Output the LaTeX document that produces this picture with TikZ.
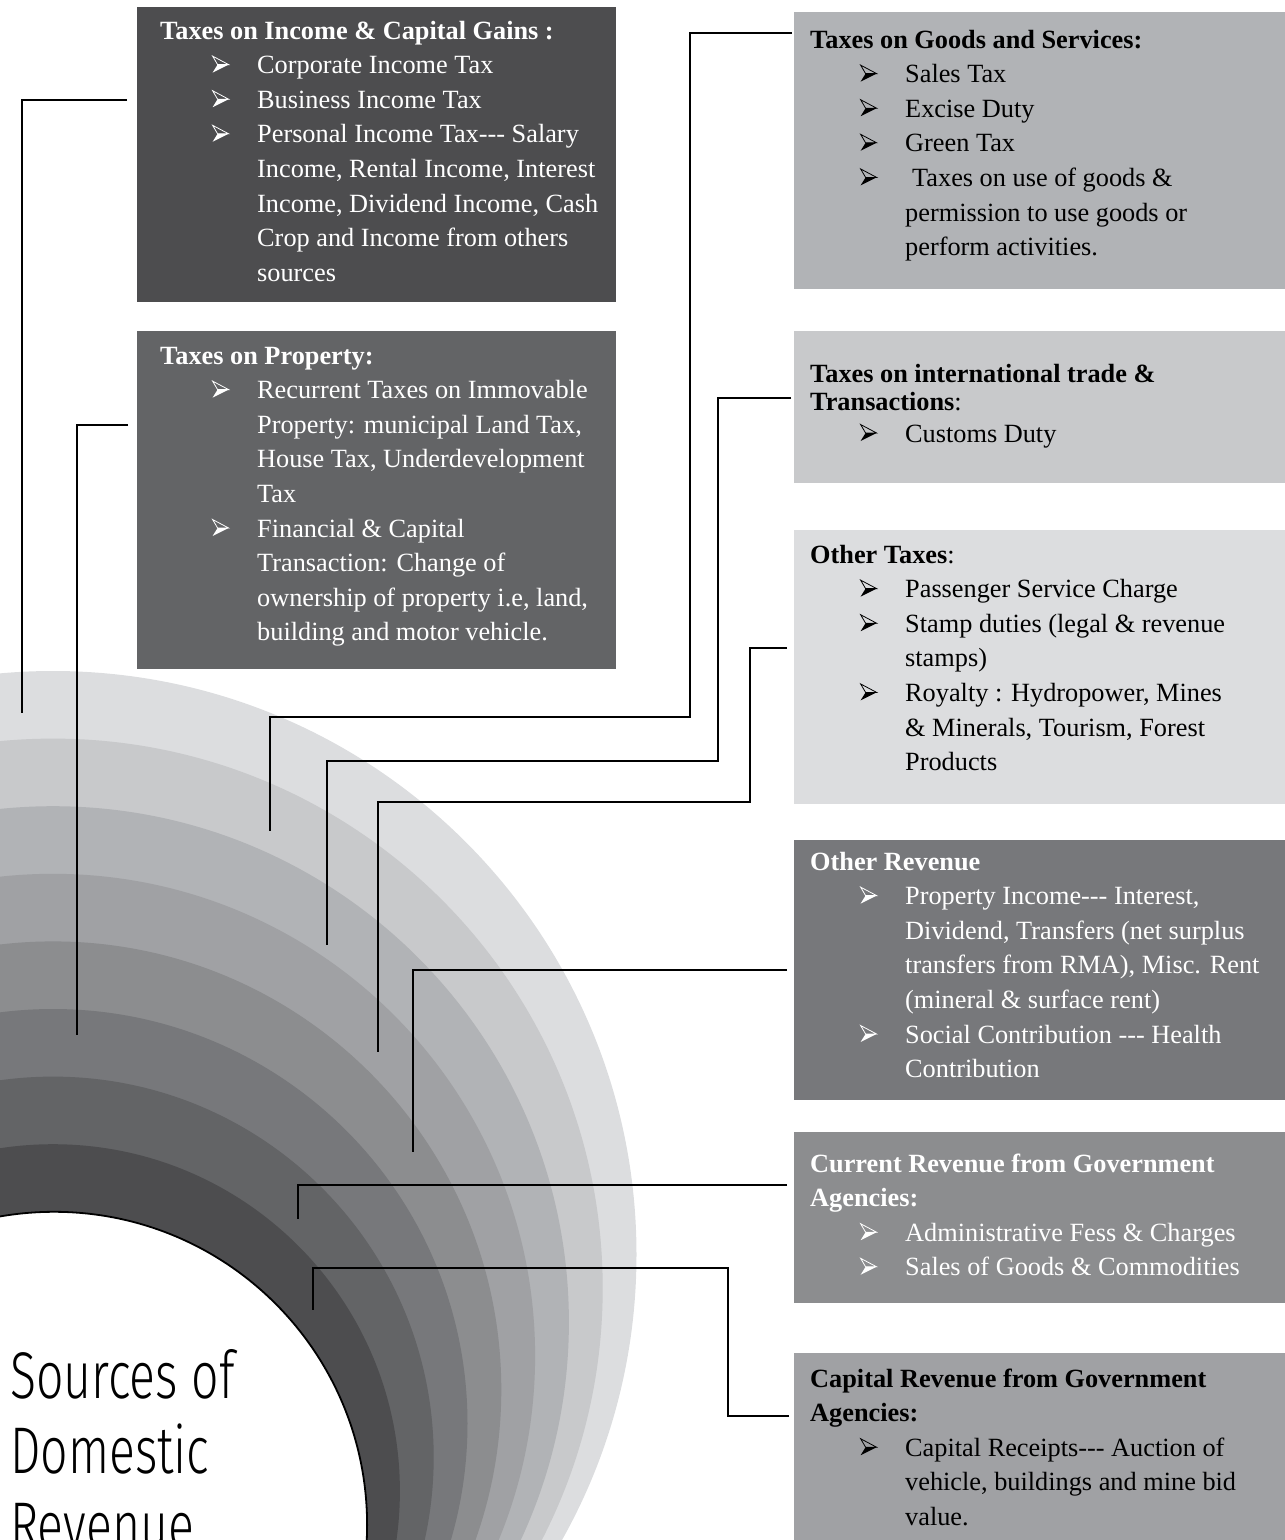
\documentclass[tikz,border=0pt]{standalone}
\usepackage{fontspec}
\setmainfont{Liberation Serif}
\newfontfamily\headfont{Fira Sans Light}[FakeStretch=0.73]
\usetikzlibrary{calc}

% band shades, outermost to innermost
\definecolor{bandA}{HTML}{DCDDDF}
\definecolor{bandB}{HTML}{C8C9CB}
\definecolor{bandC}{HTML}{B1B3B6}
\definecolor{bandD}{HTML}{A0A1A4}
\definecolor{bandE}{HTML}{8C8D8F}
\definecolor{bandF}{HTML}{77787B}
\definecolor{bandG}{HTML}{636466}
\definecolor{bandH}{HTML}{4D4D4F}

\newlength\bulx
\newlength\txtx
\def\bulcol{black}
\newcommand\bodysize{\fontsize{26.3}{34.6}\selectfont}
% arrowhead bullet: lower half solid, upper half outlined
\newcommand\arrowbullet{\tikz[x=1pt,y=1pt,baseline=0pt,line width=0.8pt,line join=miter]{%
  \fill[\bulcol] (16,9) -- (0,1) -- (5,9) -- cycle;
  \draw[\bulcol] (16,9) -- (0,17.5) -- (5,9) -- cycle;}}
\newcommand\itm{\hspace*{\bulx}\makebox[\dimexpr\txtx-\bulx\relax][l]{\arrowbullet}}
\newcommand\cnt{\hspace*{\txtx}}
\newcommand\dashes{-{}-{}-}
\newcommand\boxtext[4]{% bullet offset, text offset, bullet colour, lines
  \parbox[t]{480pt}{\setlength\bulx{#1pt}\setlength\txtx{#2pt}\def\bulcol{#3}%
    \bodysize\raggedright #4}}

\tikzset{
  panel/.style={fill=#1, draw=none, anchor=north west, inner sep=0pt},
  lines/.style={anchor=base west, inner sep=0pt},
  link/.style={draw=black, line width=1.3pt},
}

\begin{document}
\begin{tikzpicture}[x=1pt, y=-1pt]
\useasboundingbox (0,0) rectangle (1285,1540);
\clip (0,0) rectangle (1285,1540);

% nested discs, all touching at one low point
\fill[bandA] (53,1254.5) circle[radius=583.5pt];
\fill[bandB] (53,1288.3) circle[radius=549.7pt];
\fill[bandC] (53,1322.1) circle[radius=515.9pt];
\fill[bandD] (53,1355.9) circle[radius=482.1pt];
\fill[bandE] (53,1389.7) circle[radius=448.3pt];
\fill[bandF] (53,1423.5) circle[radius=414.5pt];
\fill[bandG] (53,1457.3) circle[radius=380.7pt];
\fill[bandH] (53,1491.1) circle[radius=346.9pt];
\filldraw[fill=white, draw=black, line width=1.8pt] (54,1524.9) circle[radius=313.1pt];

% panels
\node[panel=bandH, minimum width=479pt, minimum height=295pt] (income) at (137,7) {};
\node[panel=bandG, minimum width=479pt, minimum height=338pt] (property) at (137,331) {};
\node[panel=bandC, minimum width=495pt, minimum height=277pt] (goods) at (794,12) {};
\node[panel=bandB, minimum width=495pt, minimum height=152pt] (trade) at (794,331) {};
\node[panel=bandA, minimum width=495pt, minimum height=274pt] (othertax) at (794,530) {};
\node[panel=bandF, minimum width=495pt, minimum height=260pt] (otherrev) at (794,840) {};
\node[panel=bandE, minimum width=495pt, minimum height=171pt] (current) at (794,1132) {};
\node[panel=bandD, minimum width=495pt, minimum height=200pt] (capital) at (794,1353) {};

% panel texts
\node[lines, text=white] (incomeT) at (160,39) {\boxtext{52}{97}{white}{%
  \textbf{Taxes on Income \& Capital Gains :}\\
  \itm Corporate Income Tax\\
  \itm Business Income Tax\\
  \itm Personal Income Tax\dashes{} Salary\\
  \cnt Income, Rental Income, Interest\\
  \cnt Income, Dividend Income, Cash\\
  \cnt Crop and Income from others\\
  \cnt sources}};

\node[lines, text=white] (propertyT) at (160,364) {\boxtext{52}{97}{white}{%
  \textbf{Taxes on Property:}\\
  \itm Recurrent Taxes on Immovable\\
  \cnt Property: municipal Land Tax,\\
  \cnt House Tax, Underdevelopment\\
  \cnt Tax\\
  \itm Financial \& Capital\\
  \cnt Transaction: Change of\\
  \cnt ownership of property i.e, land,\\
  \cnt building and motor vehicle.}};

\node[lines, text=black] (goodsT) at (810,48) {\boxtext{50}{95}{black}{%
  \textbf{Taxes on Goods and Services:}\\
  \itm Sales Tax\\
  \itm Excise Duty\\
  \itm Green Tax\\
  \itm \hspace{7pt}Taxes on use of goods \&\\
  \cnt permission to use goods or\\
  \cnt perform activities.}};

\node[lines, text=black] (tradeT) at (810,382) {\boxtext{50}{95}{black}{%
  \textbf{Taxes on international trade \&}\\[-6.6pt]
  \textbf{Transactions}:\\[-2.6pt]
  \itm Customs Duty}};

\node[lines, text=black] (othertaxT) at (810,563) {\boxtext{50}{95}{black}{%
  \textbf{Other Taxes}:\\
  \itm Passenger Service Charge\\
  \itm Stamp duties (legal \& revenue\\
  \cnt stamps)\\
  \itm Royalty : Hydropower, Mines\\
  \cnt \& Minerals, Tourism, Forest\\
  \cnt Products}};

\node[lines, text=white] (otherrevT) at (810,870) {\boxtext{50}{95}{white}{%
  \textbf{Other Revenue}\\
  \itm Property Income\dashes{} Interest,\\
  \cnt Dividend, Transfers (net surplus\\
  \cnt transfers from RMA), Misc. Rent\\
  \cnt (mineral \& surface rent)\\
  \itm Social Contribution \dashes{} Health\\
  \cnt Contribution}};

\node[lines, text=white] (currentT) at (810,1172) {\boxtext{50}{95}{white}{%
  \textbf{Current Revenue from Government}\\
  \textbf{Agencies:}\\
  \itm Administrative Fess \& Charges\\
  \itm Sales of Goods \& Commodities}};

\node[lines, text=black] (capitalT) at (810,1387) {\boxtext{50}{95}{black}{%
  \textbf{Capital Revenue from Government}\\
  \textbf{Agencies:}\\
  \itm Capital Receipts\dashes{} Auction of\\
  \cnt vehicle, buildings and mine bid\\
  \cnt value.}};

% heading
\node[lines] (heading) at (10,1398) {\parbox[t]{400pt}{\headfont\fontsize{66}{75}\selectfont
  Sources of\\ Domestic\\ Revenue}};

% leader lines from panels into the bands
\coordinate (inc1) at (22,100);   \coordinate (inc2) at (22,713);
\coordinate (pro1) at (77,425);   \coordinate (pro2) at (77,1035);
\coordinate (gds1) at (690,33);   \coordinate (gds2) at (690,717);
\coordinate (gds3) at (270,717);  \coordinate (gds4) at (270,831);
\coordinate (trd1) at (718,398);  \coordinate (trd2) at (718,761);
\coordinate (trd3) at (327,761);  \coordinate (trd4) at (327,945);
\coordinate (otx1) at (750,648);  \coordinate (otx2) at (750,802);
\coordinate (otx3) at (378,802);  \coordinate (otx4) at (378,1052);
\coordinate (orv1) at (413,970);  \coordinate (orv2) at (413,1152);
\coordinate (cur1) at (298,1185); \coordinate (cur2) at (298,1219);
\coordinate (cap1) at (728,1416); \coordinate (cap2) at (728,1268);
\coordinate (cap3) at (313,1268); \coordinate (cap4) at (313,1310);

\draw[link] ($(income.west |- inc1)+(-10,0)$) -- (inc1) -- (inc2);
\draw[link] ($(property.west |- pro1)+(-9,0)$) -- (pro1) -- (pro2);
\draw[link] ($(goods.west |- gds1)+(-2,0)$) -- (gds1) -- (gds2) -- (gds3) -- (gds4);
\draw[link] ($(trade.west |- trd1)+(-3,0)$) -- (trd1) -- (trd2) -- (trd3) -- (trd4);
\draw[link] ($(othertax.west |- otx1)+(-7,0)$) -- (otx1) -- (otx2) -- (otx3) -- (otx4);
\draw[link] ($(otherrev.west |- orv1)+(-7,0)$) -- (orv1) -- (orv2);
\draw[link] ($(current.west |- cur1)+(-7,0)$) -- (cur1) -- (cur2);
\draw[link] ($(capital.west |- cap1)+(-5,0)$) -- (cap1) -- (cap2) -- (cap3) -- (cap4);
\end{tikzpicture}
\end{document}
